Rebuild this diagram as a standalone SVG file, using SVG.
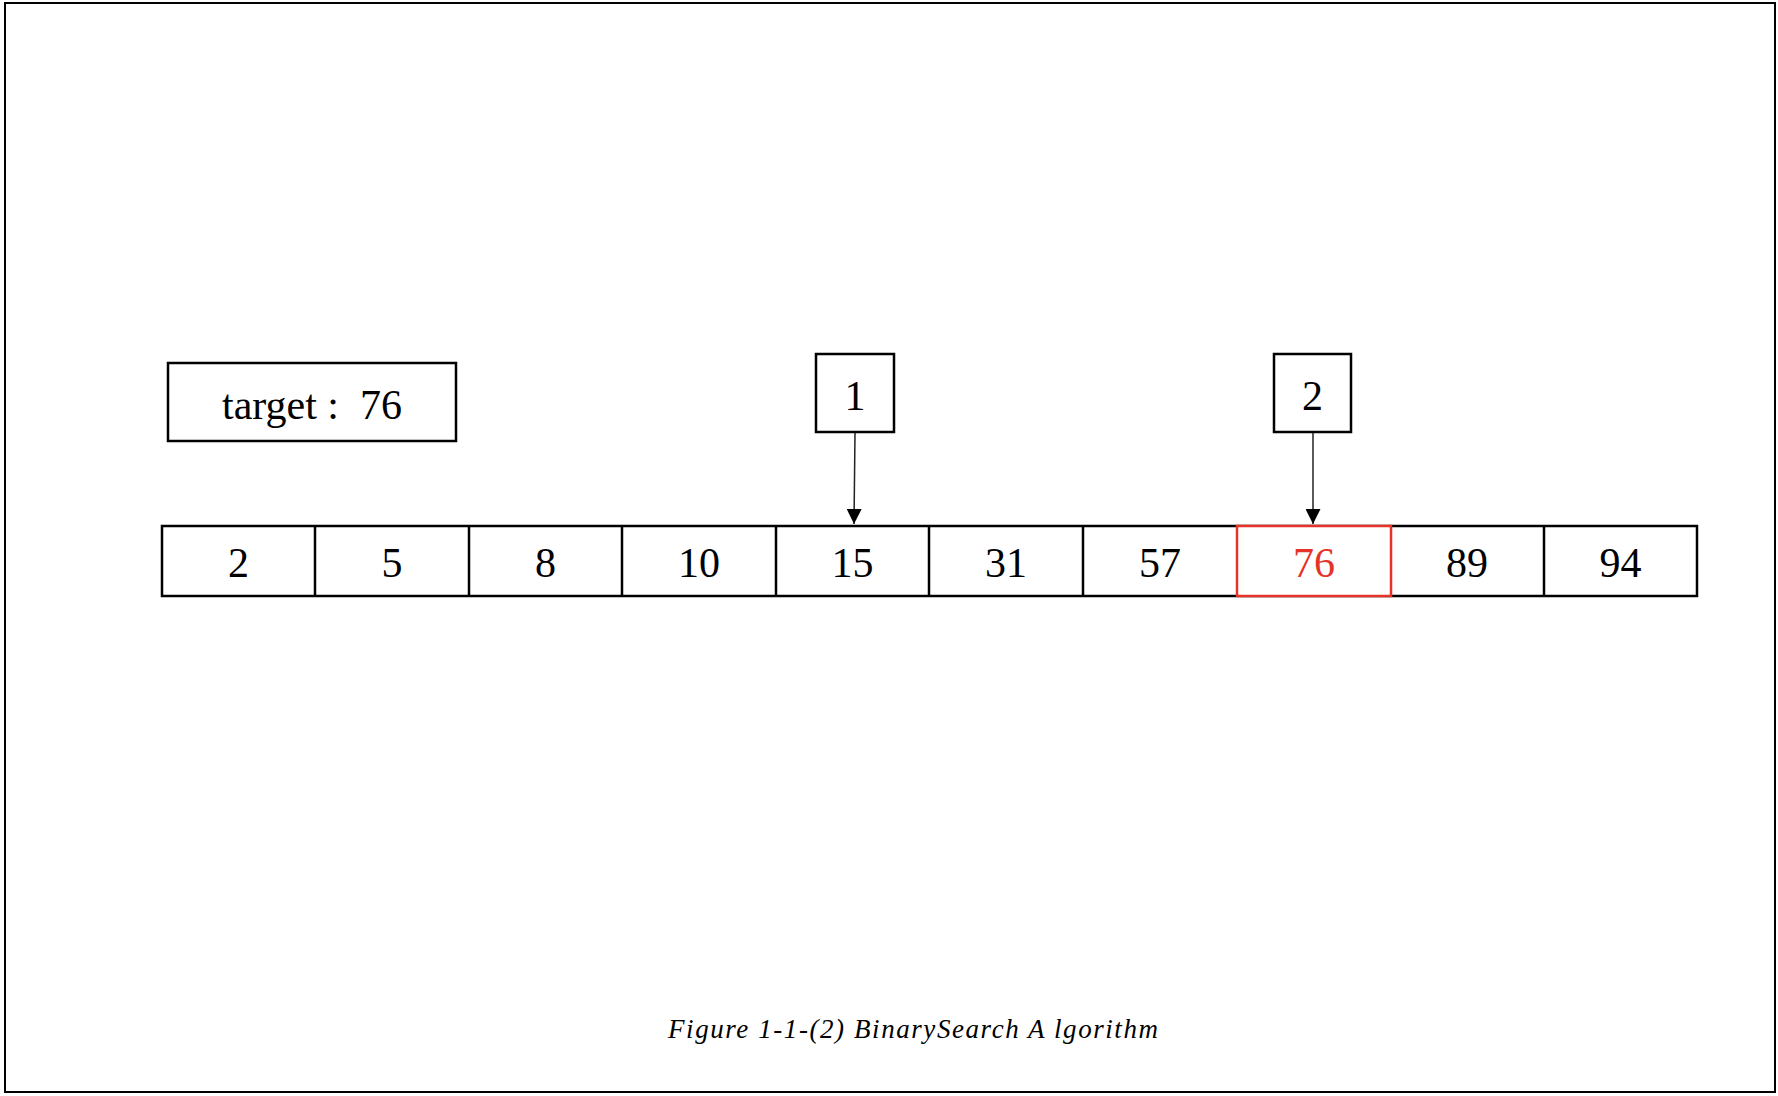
<svg xmlns="http://www.w3.org/2000/svg" width="1778" height="1096" viewBox="0 0 1778 1096">
<style>
.box{fill:#fff;stroke:#000;stroke-width:2.5}
.t{font-family:"Liberation Serif","Times New Roman",serif;font-size:42px;fill:#000;text-anchor:middle}
.red{fill:#e5332a}
.conn{stroke:#222;stroke-width:1.5;fill:none}
.cap{font-family:"Liberation Serif","Times New Roman",serif;font-style:italic;font-size:27px;fill:#000}
</style>
<defs>
<marker id="arr" markerWidth="15" markerHeight="15" refX="15" refY="7.5" orient="auto" markerUnits="userSpaceOnUse">
<path d="M0,0 L15,7.5 L0,15 Z" fill="#000"/>
</marker>
</defs>
<rect x="0" y="0" width="1778" height="1096" fill="#fff"/>
<rect x="5" y="3" width="1770" height="1089" fill="none" stroke="#000" stroke-width="2"/>
<g id="target">
<rect class="box" x="168" y="363" width="288" height="78"/>
<text class="t" x="312" y="419" xml:space="preserve">target :  76</text>
</g>
<g id="array">
<rect class="box" x="162" y="526" width="1535" height="70"/>
<g id="cell0"><text class="t" x="238.5" y="577">2</text></g>
<g id="cell1"><line x1="315" y1="526" x2="315" y2="596" stroke="#000" stroke-width="2.5"/><text class="t" x="392" y="577">5</text></g>
<g id="cell2"><line x1="469" y1="526" x2="469" y2="596" stroke="#000" stroke-width="2.5"/><text class="t" x="545.5" y="577">8</text></g>
<g id="cell3"><line x1="622" y1="526" x2="622" y2="596" stroke="#000" stroke-width="2.5"/><text class="t" x="699" y="577">10</text></g>
<g id="cell4"><line x1="776" y1="526" x2="776" y2="596" stroke="#000" stroke-width="2.5"/><text class="t" x="852.5" y="577">15</text></g>
<g id="cell5"><line x1="929" y1="526" x2="929" y2="596" stroke="#000" stroke-width="2.5"/><text class="t" x="1006" y="577">31</text></g>
<g id="cell6"><line x1="1083" y1="526" x2="1083" y2="596" stroke="#000" stroke-width="2.5"/><text class="t" x="1160" y="577">57</text></g>
<g id="cell8"><line x1="1544" y1="526" x2="1544" y2="596" stroke="#000" stroke-width="2.5"/><text class="t" x="1467" y="577">89</text></g>
<g id="cell9"><text class="t" x="1620.5" y="577">94</text></g>
<g id="cell7"><rect class="box" x="1237" y="526" width="154" height="70" style="fill:#fff;stroke:#e5332a"/><text class="t red" x="1314" y="577">76</text></g>
</g>
<g id="ptr1">
<rect class="box" x="816" y="354" width="78" height="78"/>
<text class="t" x="855" y="410">1</text>
</g>
<g id="ptr2">
<rect class="box" x="1274" y="354" width="77" height="78"/>
<text class="t" x="1312.5" y="410">2</text>
</g>
<g id="connectors">
<line class="conn" x1="855" y1="433" x2="854" y2="524" marker-end="url(#arr)"/>
<line class="conn" x1="1313" y1="433" x2="1313" y2="524" marker-end="url(#arr)"/>
</g>
<text class="cap" x="668" y="1038" textLength="490" lengthAdjust="spacing">Figure 1-1-(2) BinarySearch A lgorithm</text>
</svg>
